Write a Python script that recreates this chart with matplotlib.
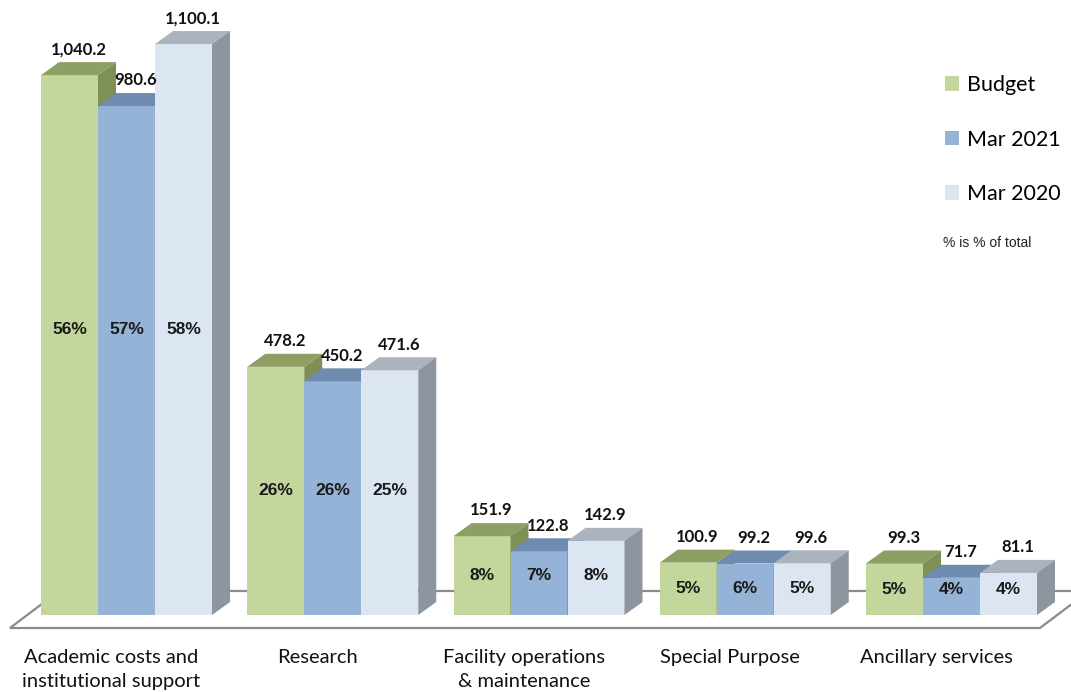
#-------------------------------------------------------------------------------
# Expense categories - pseudo 3D clustered bars
#-------------------------------------------------------------------------------
import matplotlib
matplotlib.use("Agg")
import matplotlib.pyplot as plt
from matplotlib.patches import Polygon, Patch

#-------------------------------------------------------------------------------
# Data
#-------------------------------------------------------------------------------
categories = ["Academic costs and\ninstitutional support", "Research",
              "Facility operations\n& maintenance", "Special Purpose",
              "Ancillary services"]
series = ["Budget", "Mar 2021", "Mar 2020"]
budget = [1040.2, 478.2, 151.9, 100.9, 99.3]
mar2021 = [980.6, 450.2, 122.8, 99.2, 71.7]
mar2020 = [1100.1, 471.6, 142.9, 99.6, 81.1]
pct_budget = ["56%", "26%", "8%", "5%", "5%"]
pct_2021 = ["57%", "26%", "7%", "6%", "4%"]
pct_2020 = ["58%", "25%", "8%", "5%", "4%"]

values = [budget, mar2021, mar2020]
pcts = [pct_budget, pct_2021, pct_2020]

# front / top / side colours for each series
front = ["#c3d69b", "#95b3d7", "#dce6f2"]
top = ["#8d9f62", "#6f8bb0", "#aab3be"]
side = ["#7e9056", "#627fa2", "#8d959e"]

#-------------------------------------------------------------------------------
# Scale helpers (figure pixels -> data units)
#-------------------------------------------------------------------------------
W, H = 1071, 692
X0, XSTEP = 126.5, 206.25     # pixel centre of first group, group spacing
Y0, YSCALE = 615, 0.519       # baseline pixel row, pixels per unit

def px2x(px):
    return (px - X0) / XSTEP

def px2y(py):
    return (Y0 - py) / YSCALE

bw = 57 / XSTEP
DX = 18 / XSTEP
DY = 13 / YSCALE

fig = plt.figure(figsize=(W / 100, H / 100), dpi=100)
ax = fig.add_axes([0, 0, 1, 1])
ax.set_xlim(px2x(0), px2x(W))
ax.set_ylim(px2y(H), px2y(0))
ax.axis("off")

val_font = ["Lato", "DejaVu Sans"]
pct_font = ["Liberation Sans Narrow", "Liberation Sans", "DejaVu Sans"]
cat_font = ["Lato", "DejaVu Sans"]

#-------------------------------------------------------------------------------
# Floor
#-------------------------------------------------------------------------------
floor = Polygon([(px2x(10), px2y(628)), (px2x(59), px2y(591)),
                 (px2x(1089), px2y(591)), (px2x(1040), px2y(628))],
                closed=True, facecolor="white", edgecolor="#8a8a8a",
                lw=1.6, zorder=1)
ax.add_patch(floor)

#-------------------------------------------------------------------------------
# Bars
#-------------------------------------------------------------------------------
for i in range(len(categories)):
    grp_max = max(v[i] for v in values)
    for j in range(len(series)):
        v = values[j][i]
        x = i + (j - 1) * bw
        z = 2 + i * 3 + j
        ax.bar(x, v, width=bw, color=front[j], zorder=z, linewidth=0)
        l, r = x - bw / 2, x + bw / 2
        ax.add_patch(Polygon([(l, v), (r, v), (r + DX, v + DY), (l + DX, v + DY)],
                             closed=True, facecolor=top[j], lw=0, zorder=z))
        ax.add_patch(Polygon([(r, 0), (r + DX, DY), (r + DX, v + DY), (r, v)],
                             closed=True, facecolor=side[j], lw=0, zorder=z))
        # value label above the bar
        ax.text(x + DX / 2, v + DY + 9, f"{v:,.1f}", ha="center", va="bottom",
                fontsize=12, fontweight="bold", family=val_font,
                color="#111111", zorder=50)
        # percent label in the front face
        ax.text(x, grp_max / 2, pcts[j][i], ha="center", va="center",
                fontsize=12.5, fontweight="bold", family=pct_font,
                color="#1a1a1a", zorder=50)
    # category label
    ax.text(i - 15 / XSTEP, px2y(649), categories[i], ha="center", va="top",
            fontsize=14.5, family=cat_font, color="#111111", linespacing=1.5)

#-------------------------------------------------------------------------------
# Legend
#-------------------------------------------------------------------------------
handles = [Patch(facecolor=front[k], edgecolor="none") for k in range(3)]
leg = ax.legend(handles, series, loc="upper left",
                bbox_to_anchor=(928 / W, 1 - 58 / H), frameon=False,
                handlelength=0.65, handleheight=0.65, handletextpad=0.35,
                labelspacing=1.6, borderpad=0.3,
                prop={"family": cat_font, "size": 15.5})
ax.text(px2x(943), px2y(243), "% is % of total", ha="left", va="center",
        fontsize=10, family=pct_font, color="#222222")

fig.savefig("out.png", dpi=100)
